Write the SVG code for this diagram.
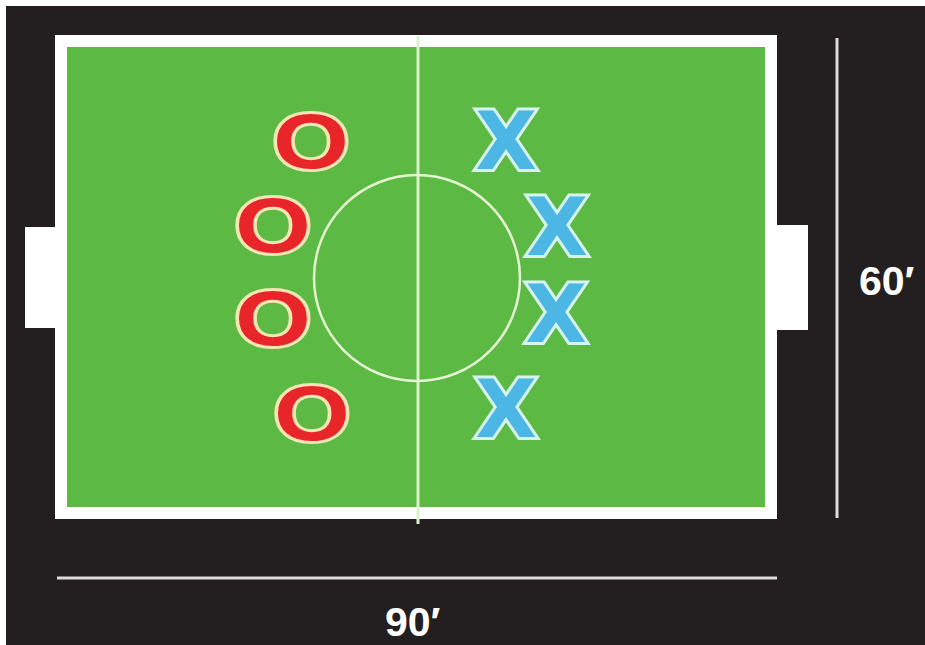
<svg xmlns="http://www.w3.org/2000/svg" width="925" height="645" viewBox="0 0 925 645">
<style>
.dim{stroke:#dcdcdc;stroke-width:3;fill:none}
.lbl{font-family:"Liberation Sans",Arial,sans-serif;font-weight:bold;font-size:41px;fill:#ffffff}
.o{font-family:"Liberation Sans",Arial,sans-serif;font-weight:bold;font-size:80px;fill:#e8262a;stroke:#f3e6b4;stroke-width:6;paint-order:stroke;text-anchor:middle}
.x{font-family:"DejaVu Sans",sans-serif;font-weight:bold;font-size:80px;fill:#4cb6e4;stroke:#d6f3ee;stroke-width:6;paint-order:stroke;text-anchor:middle}
</style>
<rect x="0" y="0" width="925" height="645" fill="#ffffff"/>
<rect x="6" y="6" width="919" height="639" fill="#231f20"/>
<g id="field">
<rect x="25" y="227" width="34" height="101" fill="#ffffff"/>
<rect x="774" y="225" width="34" height="105" fill="#ffffff"/>
<rect x="61" y="41" width="710" height="472" fill="#5cb944" stroke="#ffffff" stroke-width="12"/>
<line x1="418" y1="36" x2="418" y2="524" stroke="#d9f3c9" stroke-width="3"/>
<circle cx="417" cy="278" r="103" fill="none" stroke="#e6f6d2" stroke-width="2.5"/>
</g>
<g id="team-o">
<text class="o" transform="translate(311,168) scale(1.22,0.98)">O</text>
<text class="o" transform="translate(273,252) scale(1.22,0.98)">O</text>
<text class="o" transform="translate(273,345) scale(1.22,0.98)">O</text>
<text class="o" transform="translate(312,440) scale(1.22,0.98)">O</text>
</g>
<g id="team-x">
<text class="x" transform="translate(506,169)">X</text>
<text class="x" transform="translate(557,255)">X</text>
<text class="x" transform="translate(556,342)">X</text>
<text class="x" transform="translate(506,437)">X</text>
</g>
<g id="dimensions">
<line class="dim" x1="837" y1="38" x2="837" y2="518"/>
<line class="dim" x1="57" y1="578" x2="777" y2="578"/>
<text class="lbl" x="859" y="295">60′</text>
<text class="lbl" x="385" y="636">90′</text>
</g>
</svg>
